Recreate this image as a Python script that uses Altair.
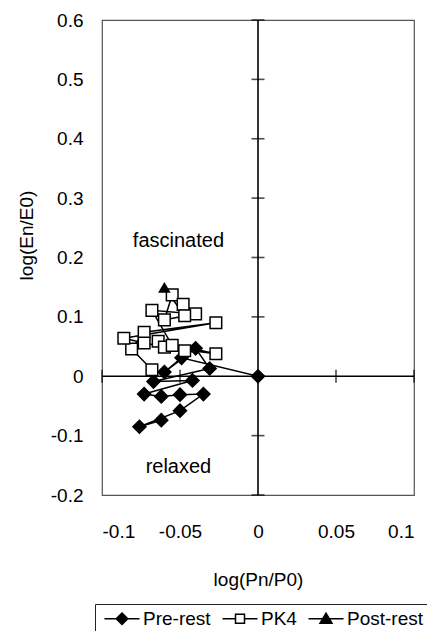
import altair as alt
import pandas as pd

# ---------------- data ----------------
series_names = ["Pre-rest", "PK4", "Post-rest"]

pre_x = [0.000, -0.049, -0.060, -0.040, -0.031, -0.067, -0.042, -0.073, -0.062, -0.050, -0.035, -0.050, -0.076, -0.062]
pre_y = [0.000, 0.031, 0.007, 0.047, 0.013, -0.009, -0.007, -0.030, -0.034, -0.031, -0.030, -0.058, -0.085, -0.074]

pk4_x = [-0.068, -0.081, -0.073, -0.027, -0.086, -0.073, -0.047, -0.064, -0.027, -0.060, -0.055, -0.068, -0.040, -0.060, -0.055, -0.048, -0.047]
pk4_y = [0.011, 0.046, 0.074, 0.090, 0.064, 0.056, 0.043, 0.059, 0.038, 0.049, 0.052, 0.111, 0.105, 0.095, 0.137, 0.121, 0.102]

post_x = [-0.060]
post_y = [0.149]

x_ticks = [-0.1, -0.05, 0, 0.05, 0.1]
y_ticks = [-0.2, -0.1, 0, 0.1, 0.2, 0.3, 0.4, 0.5, 0.6]

notes = ["fascinated", "relaxed"]
notes_x = [-0.051, -0.051]
notes_y = [0.228, -0.152]

x_title = "log(Pn/P0)"
y_title = "log(En/E0)"

FONT = "Liberation Sans"

# ---------------- tables ----------------
pts = pd.DataFrame(
    [{"series": "Pre-rest", "x": a, "y": b} for a, b in zip(pre_x, pre_y)]
    + [{"series": "PK4", "x": a, "y": b} for a, b in zip(pk4_x, pk4_y)]
    + [{"series": "Post-rest", "x": a, "y": b} for a, b in zip(post_x, post_y)]
)

line_rows = []
for i, (a, b) in enumerate(zip(pre_x, pre_y)):
    line_rows.append({"seg": "Pre-rest", "i": i, "x": a, "y": b})
for i, (a, b) in enumerate(zip(pk4_x, pk4_y)):
    line_rows.append({"seg": "PK4", "i": i, "x": a, "y": b})
# post-rest line continues from the last PK4 point
post_line = [(pk4_x[-1], pk4_y[-1])] + list(zip(post_x, post_y))
for i, (a, b) in enumerate(post_line):
    line_rows.append({"seg": "Post-rest", "i": i, "x": a, "y": b})
lines = pd.DataFrame(line_rows)

vrule = pd.DataFrame({"x": [0], "y": [y_ticks[0]], "y2": [y_ticks[-1]]})
hrule = pd.DataFrame({"y": [0], "x": [x_ticks[0]], "x2": [x_ticks[-1]]})
vticks = pd.DataFrame({"x": [0] * (len(y_ticks) - 1), "y": [v for v in y_ticks if v != 0]})
hticks = pd.DataFrame({"y": [0] * (len(x_ticks) - 1), "x": [v for v in x_ticks if v != 0]})
notes_df = pd.DataFrame({"t": notes, "x": notes_x, "y": notes_y})

# ---------------- encodings ----------------
xs = alt.Scale(domain=[x_ticks[0], x_ticks[-1]], nice=False, zero=False)
ys = alt.Scale(domain=[y_ticks[0], y_ticks[-1]], nice=False, zero=False)
x_axis = alt.Axis(
    values=x_ticks, title=x_title, grid=False, ticks=False, domain=False,
    labelPadding=27, titlePadding=29,
    labelExpr="datum.value == 0 ? '0' : (datum.value < 0 ? '-' : '') + format(abs(datum.value), '.2~f')",
)
y_axis = alt.Axis(
    values=y_ticks, title=y_title, grid=False, ticks=False, domain=False,
    labelPadding=19, titlePadding=14, titleY=215,
    labelExpr="datum.value == 0 ? '0' : (datum.value < 0 ? '-' : '') + format(abs(datum.value), '.1f')",
)


def X(f="x"):
    return alt.X(f"{f}:Q", scale=xs, axis=x_axis)


def Y(f="y"):
    return alt.Y(f"{f}:Q", scale=ys, axis=y_axis)


legend_paths = [
    "M-1,0L6,0M2.5,-1.15L3.65,0L2.5,1.15L1.35,0Z",
    "M-1,0L1.6,0M3.4,0L6,0M1.6,-0.9L3.4,-0.9L3.4,0.9L1.6,0.9Z",
    "M-1,0L6,0M2.5,-1.1L3.7,0.9L1.3,0.9Z",
]
shape_paths = ["diamond", "square", "triangle-up"]
fills = ["black", "white", "black"]
strokes = ["black", "black", "black"]

leg = alt.Legend(
    title=None, orient="none", legendX=-7, legendY=584, direction="horizontal",
    symbolSize=100, labelOffset=24, columnPadding=7, padding=5,
    strokeColor="#222", labelFont=FONT, labelFontSize=19, labelColor="black",
    symbolStrokeColor="black", symbolStrokeWidth=1.5,
)

rule_v = alt.Chart(vrule).mark_rule(color="black", strokeWidth=1.6).encode(x=X(), y=Y(), y2="y2:Q")
rule_h = alt.Chart(hrule).mark_rule(color="black", strokeWidth=1.6).encode(x=X(), x2="x2:Q", y=Y())
tick_v = alt.Chart(vticks).mark_tick(color="black", orient="horizontal", size=13, thickness=1.6).encode(x=X(), y=Y())
tick_h = alt.Chart(hticks).mark_tick(color="black", orient="vertical", size=13, thickness=1.6).encode(x=X(), y=Y())

line_layer = alt.Chart(lines).mark_line(color="black", strokeWidth=1.5).encode(
    x=X(), y=Y(), detail="seg:N", order="i:Q"
)

point_layer = alt.Chart(pts).mark_point(strokeWidth=1.5, opacity=1).encode(
    x=X(), y=Y(),
    shape=alt.Shape("series:N", scale=alt.Scale(domain=series_names, range=shape_paths), legend=None),
    fill=alt.Fill("series:N", scale=alt.Scale(domain=series_names, range=fills), legend=None),
    stroke=alt.Stroke("series:N", scale=alt.Scale(domain=series_names, range=strokes), legend=None),
    size=alt.Size("series:N", scale=alt.Scale(domain=series_names, range=[170, 100, 140]), legend=None),
)

legend_layer = alt.Chart(pts).transform_filter("false").mark_point(strokeWidth=1.5, opacity=1).encode(
    x=X(), y=Y(),
    shape=alt.Shape("series:N", scale=alt.Scale(domain=series_names, range=legend_paths), legend=leg),
    fill=alt.Fill("series:N", scale=alt.Scale(domain=series_names, range=fills), legend=leg),
    stroke=alt.Stroke("series:N", scale=alt.Scale(domain=series_names, range=strokes), legend=leg),
)

text_layer = alt.Chart(notes_df).mark_text(font=FONT, fontSize=20, color="black").encode(
    x=X(), y=Y(), text="t:N"
)

chart = (
    alt.layer(rule_v, rule_h, tick_v, tick_h, line_layer, point_layer, legend_layer, text_layer)
    .resolve_scale(shape="independent", fill="independent", stroke="independent", size="independent")
    .properties(
        width=312, height=475,
        autosize=alt.AutoSizeParams(type="none"),
        padding={"left": 94, "top": 12, "right": 13, "bottom": 136},
        background="white",
    )
    .configure_view(stroke="#555", strokeWidth=1.2)
    .configure_axis(
        labelFont=FONT, labelFontSize=19, labelColor="black",
        titleFont=FONT, titleFontSize=19, titleColor="black", titleFontWeight="normal",
    )
)

chart.save("out.html", embed_options={"renderer": "svg", "actions": False})
